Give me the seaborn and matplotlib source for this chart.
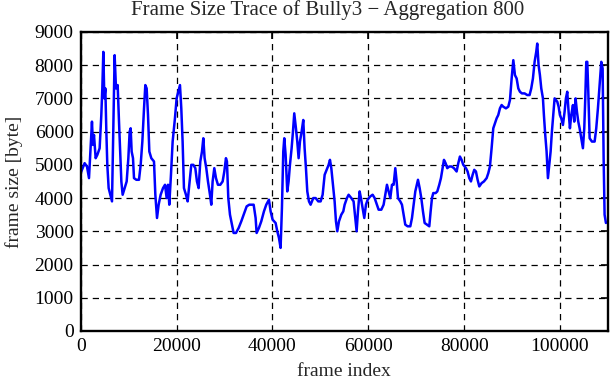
import matplotlib
matplotlib.use("Agg")
import matplotlib.pyplot as plt
import seaborn as sns
import pandas as pd

frame_index = [
    0, 420, 830, 1320, 1740, 2000, 2360, 2570, 2780, 3130, 3480, 3960, 4310, 4520, 4730,
    4940, 5150, 5360, 5560, 5840, 6190, 6540, 6820, 7090, 7370, 7720, 8000, 8280, 8490,
    8760, 9180, 9600, 9950, 10220, 10430, 10640, 10920, 11130, 11620, 12170, 12520, 12870,
    13220, 13490, 13770, 14050, 14330, 14740, 15300, 15580, 15930, 16270, 16690, 17180,
    17600, 17940, 18220, 18490, 18840, 19190, 19670, 20020, 20370, 20720, 20995, 21270,
    21550, 21970, 22320, 22660, 23080, 23500, 23920, 24260, 24610, 24960, 25310, 25590,
    25860, 26210, 26560, 26980, 27250, 27530, 27880, 28230, 28640, 29130, 29620, 29970,
    30310, 30520, 30800, 31150, 31570, 31910, 32400, 32960, 33510, 34140, 34630, 35180,
    36090, 36500, 36710, 37190, 37680, 38240, 38720, 39280, 39630, 40040, 40670, 41020,
    41370, 41710, 41990, 42270, 42480, 42760, 43100, 43380, 43660, 44010, 44290, 44560,
    44910, 45190, 45470, 45750, 46100, 46440, 46720, 47000, 47280, 47630, 47970, 48530,
    49020, 49570, 50060, 50480, 50900, 51310, 51730, 52010, 52290, 52630, 52980, 53260,
    53540, 53890, 54370, 54790, 55070, 55550, 55900, 56460, 56940, 57290, 57570, 57850,
    58200, 58470, 58820, 59170, 59520, 59870, 60420, 60910, 61330, 61810, 62160, 62720,
    63200, 63550, 63900, 64250, 64600, 64940, 65290, 65640, 65920, 66200, 66680, 67030,
    67380, 67720, 68210, 68770, 69120, 69460, 69810, 70370, 70720, 71060, 71410, 71760,
    72250, 72730, 73010, 73290, 73560, 74050, 74400, 74810, 75160, 75510, 75790, 76130,
    76480, 76900, 77380, 77870, 78430, 78780, 79120, 79470, 79820, 80380, 80720, 81070,
    81420, 81770, 82110, 82460, 82810, 83160, 83650, 84130, 84690, 85040, 85380, 85730,
    86080, 86430, 86780, 87120, 87470, 87820, 88160, 88720, 89210, 89560, 89910, 90260,
    90600, 90950, 91300, 91640, 92050, 92610, 93170, 93650, 94000, 94350, 94700, 95040,
    95250, 95530, 95810, 96090, 96440, 96640, 96920, 97200, 97480, 97760, 98040, 98310,
    98590, 98870, 99150, 99430, 99710, 99980, 100260, 100610, 100960, 101230, 101510,
    101790, 102070, 102350, 102700, 102970, 103250, 103530, 103810, 104090, 104430,
    104780, 105060, 105270, 105480, 105690, 105900, 106180, 106660, 107220, 107560,
    107910, 108260, 108610, 108890, 109100, 109300, 109580,
]
frame_size = [
    4750, 4900, 5050, 4950, 4600, 5300, 6300, 5600, 5900, 5200, 5300, 5500, 6500, 7300, 8400,
    7000, 7300, 6000, 5000, 4300, 4100, 3900, 6100, 8300, 7300, 7400, 6300, 5300, 4500,
    4100, 4300, 4500, 5200, 6000, 6100, 5400, 5200, 4600, 4550, 4550, 5000, 5700,
    6700, 7400, 7300, 6500, 5400, 5200, 5100, 4100, 3400, 3800, 4100, 4300,
    4400, 4000, 4400, 3800, 4700, 5700, 6400, 7000, 7200, 7400, 6700, 5700,
    4300, 4100, 3900, 4400, 5000, 5000, 4900, 4500, 4300, 5100, 5400, 5800,
    5200, 4900, 4500, 4100, 3800, 4500, 4900, 4600, 4400, 4400, 4500, 4800,
    5200, 5100, 4000, 3500, 3200, 2950, 2950, 3100, 3300, 3550, 3750, 3800,
    3800, 3400, 2950, 3100, 3300, 3600, 3800, 3950, 3600, 3350, 3250, 3000,
    2800, 2500, 3700, 5400, 5800, 5300, 4200, 4500, 5000, 5500, 6000, 6550,
    6100, 5700, 5200, 5700, 6000, 6350, 5500, 4900, 4200, 3900, 3800, 4000,
    4000, 3900, 3900, 4100, 4700, 4850, 5000, 5150, 4900, 4400, 3900, 3300,
    3000, 3300, 3500, 3600, 3800, 4000, 4100, 4000, 3900, 3400, 3000, 3600,
    4200, 4000, 3700, 3400, 3800, 3950, 4050, 4100, 4000, 3800, 3650, 3650,
    3800, 4100, 4400, 4200, 4000, 4400, 4400, 4900, 4500, 4000, 3900, 3800,
    3500, 3200, 3150, 3150, 3400, 3800, 4200, 4550, 4300, 4000, 3600, 3250,
    3200, 3150, 3600, 4000, 4150, 4150, 4200, 4400, 4600, 4900, 5150, 5050,
    4900, 4950, 4950, 4900, 4800, 5050, 5250, 5150, 5000, 4900, 4800, 4600,
    4500, 4700, 4850, 4800, 4550, 4350, 4450, 4500, 4600, 4750, 4950, 5500,
    6100, 6250, 6400, 6500, 6700, 6800, 6750, 6700, 6750, 6950, 7600, 8150,
    7700, 7600, 7300, 7200, 7150, 7150, 7100, 7100, 7300, 7600, 8100, 8400,
    8650, 8000, 7700, 7300, 7000, 6500, 5900, 5400, 4600, 5000, 5400, 6000,
    6500, 7000, 6950, 6900, 6750, 6500, 6400, 6200, 6600, 7000, 7200,
    6600, 6100, 6500, 6800, 6300, 7000, 6600, 6300, 6100, 5800,
    5500, 6100, 7000, 8100, 8100, 7200, 5800, 5700, 5700, 6100,
    6700, 7400, 8100, 7900, 5200, 3500, 3250,
]

df = pd.DataFrame({"frame index": frame_index, "frame size [byte]": frame_size})

sns.set_style("white")
plt.rcParams["font.family"] = ["Liberation Serif", "DejaVu Serif"]

fig = plt.figure(figsize=(6.11, 3.80), dpi=100)
ax = fig.add_axes([0.132, 0.129, 0.863, 0.787])

sns.lineplot(data=df, x="frame index", y="frame size [byte]", ax=ax,
             color="#0000ff", linewidth=1.8, estimator=None, sort=False)

ax.set_xlim(0, 110000)
ax.set_ylim(0, 9000)
ax.set_xticks(range(0, 110001, 20000))
ax.set_yticks(range(0, 9001, 1000))
ax.grid(True, color="black", linestyle=(0, (5, 4)), linewidth=0.9)
ax.tick_params(direction="in", length=5, width=1.2, top=True, right=True,
               labelsize=14, colors="black", pad=5)
for s in ax.spines.values():
    s.set_linewidth(1.7)
    s.set_color("black")
    s.set_visible(True)

ax.set_xlabel("frame index", fontsize=14, labelpad=6)
ax.set_ylabel("frame size [byte]", fontsize=14, labelpad=8)
fig.text(328 / 611, 1 - 10 / 380, "Frame Size Trace of Bully3 \u2212 Aggregation 800",
         fontsize=15, ha="center", va="center")

fig.savefig("out.png", dpi=100)
